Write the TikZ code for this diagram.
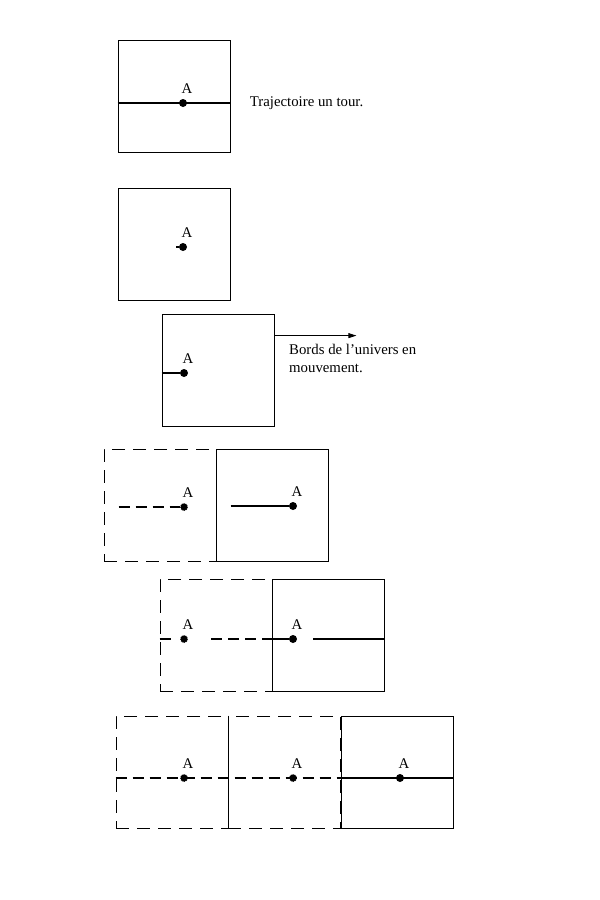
\documentclass[tikz,border=0pt]{standalone}
\usepackage{fontspec}
\setmainfont{Liberation Serif}
\usetikzlibrary{arrows.meta,positioning}

\begin{document}
\begin{tikzpicture}[
  x=1pt, y=-1pt,
  font=\fontsize{14.8}{18}\selectfont,
  >={Triangle[length=8pt,width=5pt]},
  cell/.style={draw, line width=0.8pt, minimum size=112pt, inner sep=0pt},
  ghostcell/.style={cell, dash pattern=on 13pt off 8pt},
  dot/.style={circle, fill, inner sep=0pt, minimum size=8pt},
  ghost/.style={dot, draw=white, line width=0.7pt, dash pattern=on 1pt off 1.2pt},
  lab/.style={inner sep=0pt, above=5pt, xshift=4pt},
  traj/.style={line width=1.6pt},
  trajdash/.style={traj, dash pattern=on 11pt off 6pt}
]
  \useasboundingbox (0,0) rectangle (600,900);

  % one full turn
  \node[cell] (c1) at (174,96) {};
  \node[dot] (p1) at (183,103) {};
  \draw[traj] (c1.west |- p1) -- (c1.east |- p1);
  \node[lab] (a1) at (p1.north) {A};
  \node[anchor=west] (t1) at ([xshift=16pt]c1.east |- p1) {Trajectoire un tour.};

  % start of the move
  \node[cell] (c2) at (174,244) {};
  \node[dot] (p2) at (183,247) {};
  \draw[traj] ([xshift=-7pt]p2.center) -- (p2);
  \node[lab] (a2) at (p2.north) {A};

  % the edges move away
  \node[cell] (c3) at (218,370) {};
  \node[dot] (p3) at (184,373) {};
  \draw[traj] (c3.west |- p3) -- (p3);
  \node[lab] (a3) at (p3.north) {A};
  \coordinate (go) at ([xshift=82pt,yshift=-22pt]c3.north east);
  \draw[->, line width=0.8pt] ([yshift=-22pt]c3.north east) -- (go);
  \node[anchor=north west, align=left, inner sep=0pt] (t3) at (289,344)
    {Bords de l'univers en\\mouvement.};

  % two cells
  \node[ghostcell] (g41) at (160,505) {};
  \node[cell] (c42) at (272,505) {};
  \node[ghost] (q41) at (184,507) {};
  \node[dot] (p42) at (293,506) {};
  \draw[trajdash] ([xshift=15pt]g41.west |- q41) -- (q41);
  \draw[traj] ([xshift=15pt]c42.west |- p42) -- (p42);
  \node[lab] (a41) at (q41.north) {A};
  \node[lab] (a42) at (p42.north) {A};

  % shifted again
  \node[ghostcell] (g51) at (216,635) {};
  \node[cell] (c52) at (328,635) {};
  \node[ghost] (q51) at (184,639) {};
  \node[dot] (p52) at (293,639) {};
  \draw[traj] (g51.west |- q51) -- ([xshift=-13pt]q51.center);
  \draw[trajdash] ([xshift=27pt]q51.center) -- (c52.west |- p52);
  \draw[traj] (c52.west |- p52) -- (p52);
  \draw[traj] ([xshift=20pt]p52.center) -- (c52.east |- p52);
  \node[lab] (a51) at (q51.north) {A};
  \node[lab] (a52) at (p52.north) {A};

  % three cells
  \node[ghostcell] (g61) at (172,772) {};
  \node[ghostcell] (g62) at (284,772) {};
  \node[cell] (c63) at (397,772) {};
  \draw[line width=0.8pt] (g61.north east) -- (g61.south east);
  \node[ghost] (q61) at (184,778) {};
  \node[ghost] (q62) at (293,778) {};
  \node[dot] (p63) at (400,778) {};
  \draw[trajdash] (g61.west |- q61) -- (c63.west |- p63);
  \draw[traj] (c63.west |- p63) -- (c63.east |- p63);
  \node[lab] (a61) at (q61.north) {A};
  \node[lab] (a62) at (q62.north) {A};
  \node[lab] (a63) at (p63.north) {A};
\end{tikzpicture}
\end{document}
